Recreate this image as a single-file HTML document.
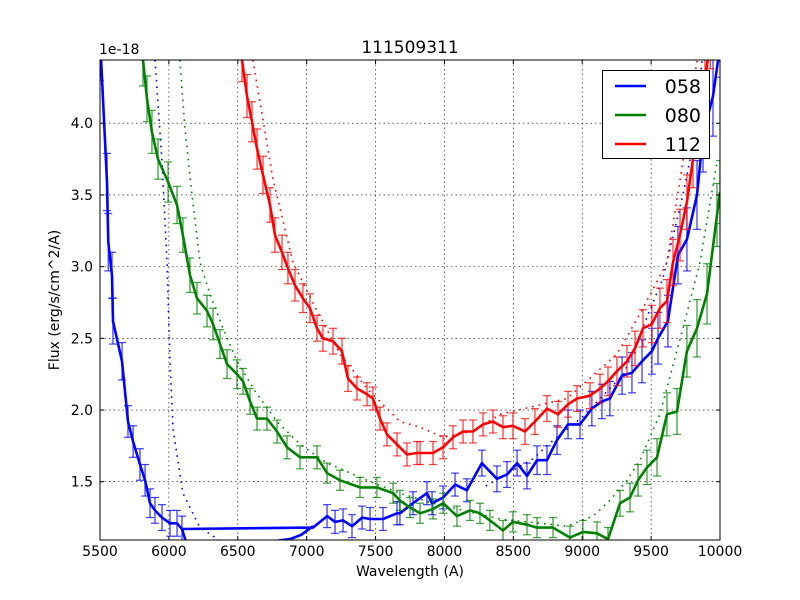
<!DOCTYPE html>
<html><head><meta charset="utf-8"><style>
body{margin:0;background:#fff;}
svg{display:block;font-family:"DejaVu Sans","Liberation Sans",sans-serif;}
</style></head><body>
<svg id="chart" width="800" height="600"></svg>
<script>
const xTicks=[5500,6000,6500,7000,7500,8000,8500,9000,9500,10000];
const yTicks=[1.5,2.0,2.5,3.0,3.5,4.0];
const seriesNames=["058","080","112"];
const blueW=[5500,5551,5560,5587,5594,5660,5703,5740,5790,5827,5863,5899,5950,6008,6059,6095,7046,7148,7206,7264,7329,7402,7460,7554,7656,7677,7772,7873,7910,7990,8077,8163,8272,8381,8454,8527,8599,8672,8744,8817,8897,8984,9070,9143,9201,9289,9361,9434,9506,9550,9622,9695,9760,9833,9877,9949,10010];
const blueF=[4.6,3.59,3.17,2.94,2.62,2.34,1.92,1.78,1.62,1.51,1.35,1.30,1.25,1.21,1.21,1.17,1.18,1.26,1.22,1.23,1.19,1.25,1.24,1.24,1.28,1.28,1.35,1.42,1.35,1.39,1.48,1.44,1.63,1.52,1.55,1.63,1.54,1.65,1.65,1.79,1.90,1.90,2.01,2.06,2.08,2.24,2.26,2.34,2.41,2.50,2.62,3.08,3.19,3.50,3.92,4.19,4.6];
const blueE=[0.3,0.2,0.2,0.16,0.16,0.13,0.11,0.11,0.11,0.11,0.1,0.09,0.09,0.09,0.09,0.09,0.0,0.08,0.08,0.08,0.08,0.08,0.08,0.08,0.08,0.08,0.08,0.08,0.08,0.08,0.08,0.08,0.09,0.09,0.09,0.09,0.09,0.1,0.1,0.1,0.1,0.1,0.12,0.12,0.12,0.13,0.14,0.15,0.16,0.18,0.18,0.2,0.22,0.24,0.26,0.28,0.28];
const blue2W=[6095,6150,6750,6800,6880,6960,7046];
const blue2F=[1.17,1.0,1.0,1.09,1.10,1.13,1.19];
const greenW=[5812,5841,5877,5921,5994,6059,6102,6153,6204,6277,6320,6371,6422,6494,6538,6589,6640,6712,6785,6857,6952,7075,7148,7242,7387,7510,7627,7677,7750,7823,7917,7990,8091,8185,8258,8330,8425,8497,8599,8672,8788,8911,9005,9107,9187,9274,9347,9405,9470,9543,9615,9688,9760,9833,9906,9978,10000];
const greenF=[4.44,4.17,3.94,3.75,3.59,3.43,3.22,2.94,2.78,2.69,2.60,2.46,2.32,2.25,2.20,2.06,1.94,1.94,1.85,1.74,1.67,1.67,1.56,1.51,1.46,1.46,1.42,1.37,1.32,1.28,1.31,1.35,1.26,1.30,1.28,1.23,1.16,1.22,1.20,1.18,1.18,1.11,1.15,1.14,1.10,1.35,1.39,1.51,1.60,1.67,1.97,1.99,2.41,2.57,2.81,3.36,3.52];
const greenE=[0.18,0.16,0.15,0.14,0.14,0.13,0.12,0.12,0.11,0.11,0.11,0.1,0.1,0.1,0.09,0.09,0.08,0.08,0.08,0.08,0.08,0.08,0.07,0.07,0.07,0.07,0.07,0.07,0.07,0.07,0.07,0.07,0.07,0.07,0.07,0.07,0.07,0.07,0.07,0.07,0.07,0.08,0.08,0.08,0.08,0.09,0.1,0.11,0.12,0.13,0.15,0.16,0.18,0.2,0.21,0.22,0.22];
const redW=[6531,6567,6603,6640,6683,6734,6770,6821,6864,6915,6973,7024,7075,7118,7191,7256,7300,7365,7438,7481,7532,7583,7656,7728,7801,7823,7917,7990,8062,8135,8207,8280,8352,8425,8497,8585,8657,8744,8824,8897,8962,9056,9129,9187,9252,9325,9383,9441,9506,9564,9615,9659,9710,9760,9804,9855,9891,9930];
const redF=[4.44,4.19,4.01,3.82,3.64,3.43,3.22,3.10,2.99,2.87,2.78,2.71,2.57,2.50,2.48,2.41,2.22,2.15,2.11,2.08,1.94,1.83,1.76,1.69,1.70,1.70,1.70,1.74,1.81,1.85,1.85,1.90,1.92,1.88,1.89,1.85,1.92,2.01,1.97,2.04,2.08,2.10,2.15,2.20,2.27,2.34,2.43,2.57,2.60,2.71,2.76,3.03,3.22,3.45,3.75,4.08,4.29,4.6];
const redE=[0.15,0.15,0.14,0.14,0.13,0.12,0.12,0.12,0.11,0.11,0.1,0.1,0.09,0.09,0.09,0.09,0.09,0.08,0.08,0.08,0.08,0.08,0.08,0.08,0.08,0.08,0.08,0.08,0.08,0.08,0.08,0.08,0.08,0.08,0.09,0.09,0.09,0.09,0.09,0.09,0.09,0.09,0.1,0.1,0.1,0.11,0.12,0.13,0.13,0.14,0.15,0.16,0.18,0.19,0.2,0.22,0.22,0.22];
const blueModelW=[5899,5950,5986,6008,6030,6102,6226,6371,6500];
const blueModelF=[4.44,3.73,3.03,2.34,1.87,1.42,1.18,1.09,1.0];
const blueModel2W=[8300,8643,8766,9000,9300,9586,9731,9804,9870];
const blueModel2F=[1.47,1.66,1.77,1.95,2.25,2.92,3.50,3.85,4.44];
const greenModelW=[6080,6117,6168,6226,6298,6393,6494,6640,6785,6952,7148,7438,7677,7917,8403,8890,9078,9201,9325,9419,9564,9731,9855,9978];
const greenModelF=[4.44,3.96,3.50,3.03,2.81,2.57,2.34,2.11,1.92,1.76,1.63,1.51,1.42,1.35,1.24,1.19,1.26,1.37,1.51,1.65,1.97,2.57,3.03,3.73];
const redModelW=[6610,6756,6901,7075,7242,7438,7677,7823,7990,8200,8403,8890,9252,9419,9615,9731,9833];
const redModelF=[4.44,3.61,3.03,2.69,2.39,2.15,1.92,1.88,1.81,1.85,1.97,2.08,2.39,2.67,3.03,3.73,4.44];

const NS="http://www.w3.org/2000/svg";
const svg=document.getElementById('chart');
const L=100,R=720,T=60,B=540,XMIN=5500,XMAX=10000,YMIN=1.0935,YMAX=4.441;
function xs(w){return L+(w-XMIN)*(R-L)/(XMAX-XMIN);}
function ys(f){return B-(f-YMIN)*(B-T)/(YMAX-YMIN);}
function el(tag,attrs,parent){const e=document.createElementNS(NS,tag);for(const k in attrs)e.setAttribute(k,attrs[k]);(parent||svg).appendChild(e);return e;}

const defs=el('defs',{});
const cp=el('clipPath',{id:'clip'},defs);
el('rect',{x:L,y:T,width:R-L,height:B-T},cp);

const grid=el('g',{});


xTicks.forEach(t=>{if(t>XMIN&&t<XMAX){const g=el('line',{x1:xs(t),x2:xs(t),y1:T,y2:B,stroke:'#000','stroke-width':0.6,'stroke-dasharray':'1.5,3'},grid);}});
yTicks.forEach(t=>{const g=el('line',{x1:L,x2:R,y1:ys(t),y2:ys(t),stroke:'#000','stroke-width':0.6,'stroke-dasharray':'1.5,3'},grid);});

const plot=el('g',{'clip-path':'url(#clip)'});


function pts(W,F){return W.map((w,i)=>xs(w).toFixed(1)+','+ys(F[i]).toFixed(1)).join(' ');}
function model(W,F,c,name){const p=el('polyline',{points:pts(W,F),fill:'none',stroke:c,'stroke-width':1.6,'stroke-dasharray':'1.6,5'},plot);}
function series(W,F,E,c,ec,name){
  const g=el('g',{},plot);
  
  
  W.forEach((w,i)=>{if(E[i]<=0)return;const x=xs(w),y1=ys(F[i]-E[i]),y2=ys(F[i]+E[i]);
    el('line',{x1:x,x2:x,y1:y1,y2:y2,stroke:ec,'stroke-width':1.3},g);
    el('line',{x1:x-4,x2:x+4,y1:y1,y2:y1,stroke:ec,'stroke-width':1.2},g);
    el('line',{x1:x-4,x2:x+4,y1:y2,y2:y2,stroke:ec,'stroke-width':1.2},g);});
  const p=el('polyline',{points:pts(W,F),fill:'none',stroke:c,'stroke-width':2.6,'stroke-linejoin':'round'},plot);
  
  
}
model(blueModelW,blueModelF,'#0000ff','model-058-left');
model(blueModel2W,blueModel2F,'#0000ff','model-058-right');
model(greenModelW,greenModelF,'#008000','model-080');
model(redModelW,redModelF,'#ff0000','model-112');
series(blueW,blueF,blueE,'#0000ff','rgba(0,0,255,0.75)','series-058');
const b2=el('polyline',{points:pts(blue2W,blue2F),fill:'none',stroke:'#0000ff','stroke-width':2.6},plot);


series(greenW,greenF,greenE,'#008000','rgba(0,128,0,0.75)','series-080');
series(redW,redF,redE,'#ff0000','rgba(255,0,0,0.75)','series-112');

const frame=el('rect',{x:L,y:T,width:R-L,height:B-T,fill:'none',stroke:'#000','stroke-width':1});



xTicks.forEach(t=>{const x=xs(t);
  el('line',{x1:x,x2:x,y1:B,y2:B-4,stroke:'#000'});el('line',{x1:x,x2:x,y1:T,y2:T+4,stroke:'#000'});
  const tx=el('text',{x:x,y:556,'font-size':14,'text-anchor':'middle'});tx.textContent=t;
  
  });
yTicks.forEach(t=>{const y=ys(t);
  el('line',{x1:L,x2:L+4,y1:y,y2:y,stroke:'#000'});el('line',{x1:R,x2:R-4,y1:y,y2:y,stroke:'#000'});
  const tx=el('text',{x:93,y:y+5,'font-size':14,'text-anchor':'end'});tx.textContent=t.toFixed(1);
  
  });

function txt(s,a,name){const t=el('text',a);t.textContent=s;return t;}
txt('1e-18',{x:99,y:54,'font-size':14},'y-axis-offset');
txt('111509311',{x:410,y:53,'font-size':17,'text-anchor':'middle'},'chart-title');
txt('Wavelength (A)',{x:410,y:576,'font-size':14,'text-anchor':'middle'},'x-axis-title');
txt('Flux (erg/s/cm^2/A)',{x:59,y:300,'font-size':14,'text-anchor':'middle',transform:'rotate(-90 59 300)'},'y-axis-title');

const lg=el('g',{});


el('rect',{x:602.5,y:70.5,width:107,height:88,fill:'#fff',stroke:'#000','stroke-width':1},lg);
const lc=['#0000ff','#008000','#ff0000'];
seriesNames.forEach((n,i)=>{const y=86+i*29;
  const e=el('g',{},lg);
  
  
  el('line',{x1:615,x2:646,y1:y,y2:y,stroke:lc[i],'stroke-width':2.6},e);
  const t=el('text',{x:701,y:y+7,'font-size':19,'text-anchor':'end'},e);t.textContent=n;});
</script>
</body></html>
